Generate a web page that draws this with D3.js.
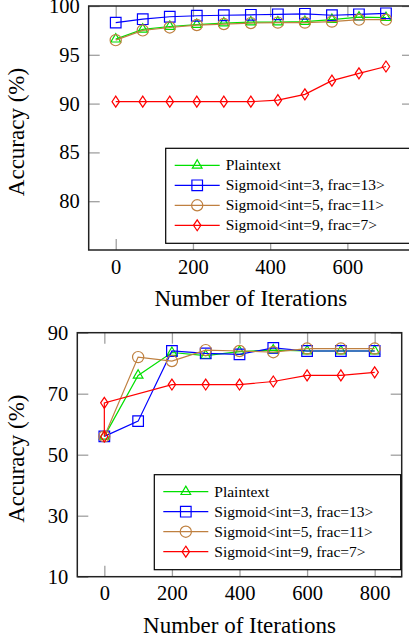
<!DOCTYPE html>
<html>
<head>
<meta charset="utf-8">
<script src="https://cdn.jsdelivr.net/npm/d3@7"></script>
</head>
<body style="margin:0">
<svg id="chart" width="409" height="642" font-family="Liberation Serif"></svg>
<script>
// legend entries
let seriesNames = ['Plaintext', 'Sigmoid<int=3, frac=13>', 'Sigmoid<int=5, frac=11>', 'Sigmoid<int=9, frac=7>'];
let seriesColors = ['#00e000', '#0000ff', '#bf8040', '#ff0000'];
let seriesMarks = ['triangle', 'square', 'circle', 'diamond'];
const FONT = 'Liberation Serif';

// top chart data
let topIter = [0, 70, 140, 210, 280, 350, 420, 490, 560, 630, 700];
let topPlain = [96.6, 97.6, 97.9, 98.1, 98.25, 98.35, 98.35, 98.4, 98.6, 98.85, 98.8];
let topInt3 = [98.3, 98.65, 98.9, 99.0, 99.05, 99.1, 99.15, 99.2, 99.05, 99.15, 99.25];
let topInt5 = [96.5, 97.5, 97.8, 98.05, 98.15, 98.25, 98.3, 98.3, 98.4, 98.6, 98.6];
let topInt9 = [90.2, 90.2, 90.2, 90.2, 90.2, 90.2, 90.35, 90.95, 92.35, 93.1, 93.8];
let topXTicks = [0, 200, 400, 600];
let topYTicks = [80, 85, 90, 95, 100];

// bottom chart data
let botIter = [0, 100, 200, 300, 400, 500, 600, 700, 800];
let botIter9 = [0, 0, 200, 300, 400, 500, 600, 700, 800];
let botPlain = [56, 76, 83.5, 82.5, 83.8, 84.3, 84, 84, 84];
let botInt3 = [56, 61, 84, 83.2, 82.9, 85, 84, 84, 84];
let botInt5 = [56, 82, 80.7, 84.3, 84, 83.6, 84.8, 84.8, 84.8];
let botInt9 = [56, 67, 73, 73, 73, 74, 76, 76, 77];
let botXTicks = [0, 200, 400, 600, 800];
let botYTicks = [10, 30, 50, 70, 90];

let chart = d3.select('#chart');

function markPath(type) {
    if (type == 'triangle') {
        let r = 5.6;
        return `M0,${-r} L${r*0.866},${r/2} L${-r*0.866},${r/2} Z`;
    }
    if (type == 'square') return 'M-5.3,-5.3 H5.3 V5.3 H-5.3 Z';
    if (type == 'diamond') return 'M0,-5.5 L3.7,0 L0,5.5 L-3.7,0 Z';
    return 'M5.6,0 A5.6,5.6 0 1,1 -5.6,0 A5.6,5.6 0 1,1 5.6,0 Z';
}

function setFont(sel, size) {
    sel.attr('font-family', FONT)
        .attr('font-size', size)
        .style('font-family', FONT)
        .style('font-size', size + 'px');
    return sel;
}

function drawPanel(p) {
    let g = chart.append('g');
    let xScale = d3.scaleLinear().domain(p.xDomain).range([p.left, p.right]);
    let yScale = d3.scaleLinear().domain(p.yDomain).range([p.bottom, p.top]);

    // gray ticks pointing inward on all four sides
    let tickLen = 11;
    let axes = [
        [d3.axisBottom(xScale).tickValues(p.xTicks).tickSize(-tickLen).tickPadding(9), `translate(0,${p.bottom})`],
        [d3.axisTop(xScale).tickValues(p.xTicks).tickSize(-tickLen).tickFormat(''), `translate(0,${p.top})`],
        [d3.axisLeft(yScale).tickValues(p.yTicks).tickSize(-tickLen).tickPadding(9), `translate(${p.left},0)`],
        [d3.axisRight(yScale).tickValues(p.yTicks).tickSize(-tickLen).tickFormat(''), `translate(${p.right},0)`]
    ];
    axes.forEach(a => {
        let ax = g.append('g').attr('transform', a[1]).call(a[0]);
        setFont(ax, 20.5);
        ax.select('.domain').remove();
        ax.selectAll('line').attr('stroke', '#a0a0a0').attr('stroke-width', 1.3);
        setFont(ax.selectAll('text'), 20.5).attr('fill', '#000');
    });

    // frame
    g.append('rect')
        .attr('x', p.left).attr('y', p.top)
        .attr('width', p.right - p.left).attr('height', p.bottom - p.top)
        .attr('fill', 'none').attr('stroke', '#222').attr('stroke-width', 1.5);

    // lines + markers
    p.series.forEach((s, i) => {
        let pts = s.y.map((v, j) => [s.x[j], v]);
        let line = d3.line().x(d => xScale(d[0])).y(d => yScale(d[1]));
        g.append('path')
            .attr('d', line(pts))
            .attr('fill', 'none')
            .attr('stroke', seriesColors[i])
            .attr('stroke-width', 1.2);
        g.selectAll('.mk' + i)
            .data(pts)
            .enter().append('path')
            .attr('class', 'mk' + i)
            .attr('transform', d => `translate(${xScale(d[0])},${yScale(d[1])})`)
            .attr('d', markPath(seriesMarks[i]))
            .attr('fill', 'none')
            .attr('stroke', seriesColors[i])
            .attr('stroke-width', 1.2);
    });

    // legend
    let lg = g.append('g');
    lg.append('rect')
        .attr('x', p.legend.x).attr('y', p.legend.y)
        .attr('width', p.legend.w).attr('height', 95)
        .attr('fill', '#fff').attr('stroke', '#000').attr('stroke-width', 1.2);
    seriesNames.forEach((name, i) => {
        let cy = p.legend.y + 17 + i * 20;
        let x0 = p.legend.x + 9;
        lg.append('line')
            .attr('x1', x0).attr('x2', x0 + 45)
            .attr('y1', cy).attr('y2', cy)
            .attr('stroke', seriesColors[i]).attr('stroke-width', 1.2);
        lg.append('path')
            .attr('transform', `translate(${x0 + 22.5},${cy})`)
            .attr('d', markPath(seriesMarks[i]))
            .attr('fill', 'none')
            .attr('stroke', seriesColors[i]).attr('stroke-width', 1.2);
        setFont(lg.append('text'), 15.5)
            .attr('x', x0 + 51).attr('y', cy + 5)
            .text(name);
    });

    // axis titles
    setFont(g.append('text'), 23)
        .attr('x', (p.left + p.right) / 2)
        .attr('y', p.bottom + 56)
        .attr('text-anchor', 'middle')
        .text('Number of Iterations');
    setFont(g.append('text'), 23)
        .attr('transform', `translate(24,${(p.top + p.bottom) / 2 + 4}) rotate(-90)`)
        .attr('text-anchor', 'middle')
        .text('Accuracy (%)');
}

drawPanel({
    left: 88.7, right: 413, top: 6, bottom: 250,
    xDomain: [-70, 770], yDomain: [75, 100],
    xTicks: topXTicks, yTicks: topYTicks,
    series: [
        {x: topIter, y: topPlain},
        {x: topIter, y: topInt3},
        {x: topIter, y: topInt5},
        {x: topIter, y: topInt9}
    ],
    legend: {x: 165.7, y: 148.3, w: 260}
});

drawPanel({
    left: 77.3, right: 401.7, top: 332.7, bottom: 576.7,
    xDomain: [-80, 880], yDomain: [10, 90],
    xTicks: botXTicks, yTicks: botYTicks,
    series: [
        {x: botIter, y: botPlain},
        {x: botIter, y: botInt3},
        {x: botIter, y: botInt5},
        {x: botIter9, y: botInt9}
    ],
    legend: {x: 154.3, y: 474.7, w: 246.4}
});
</script>
</body>
</html>
